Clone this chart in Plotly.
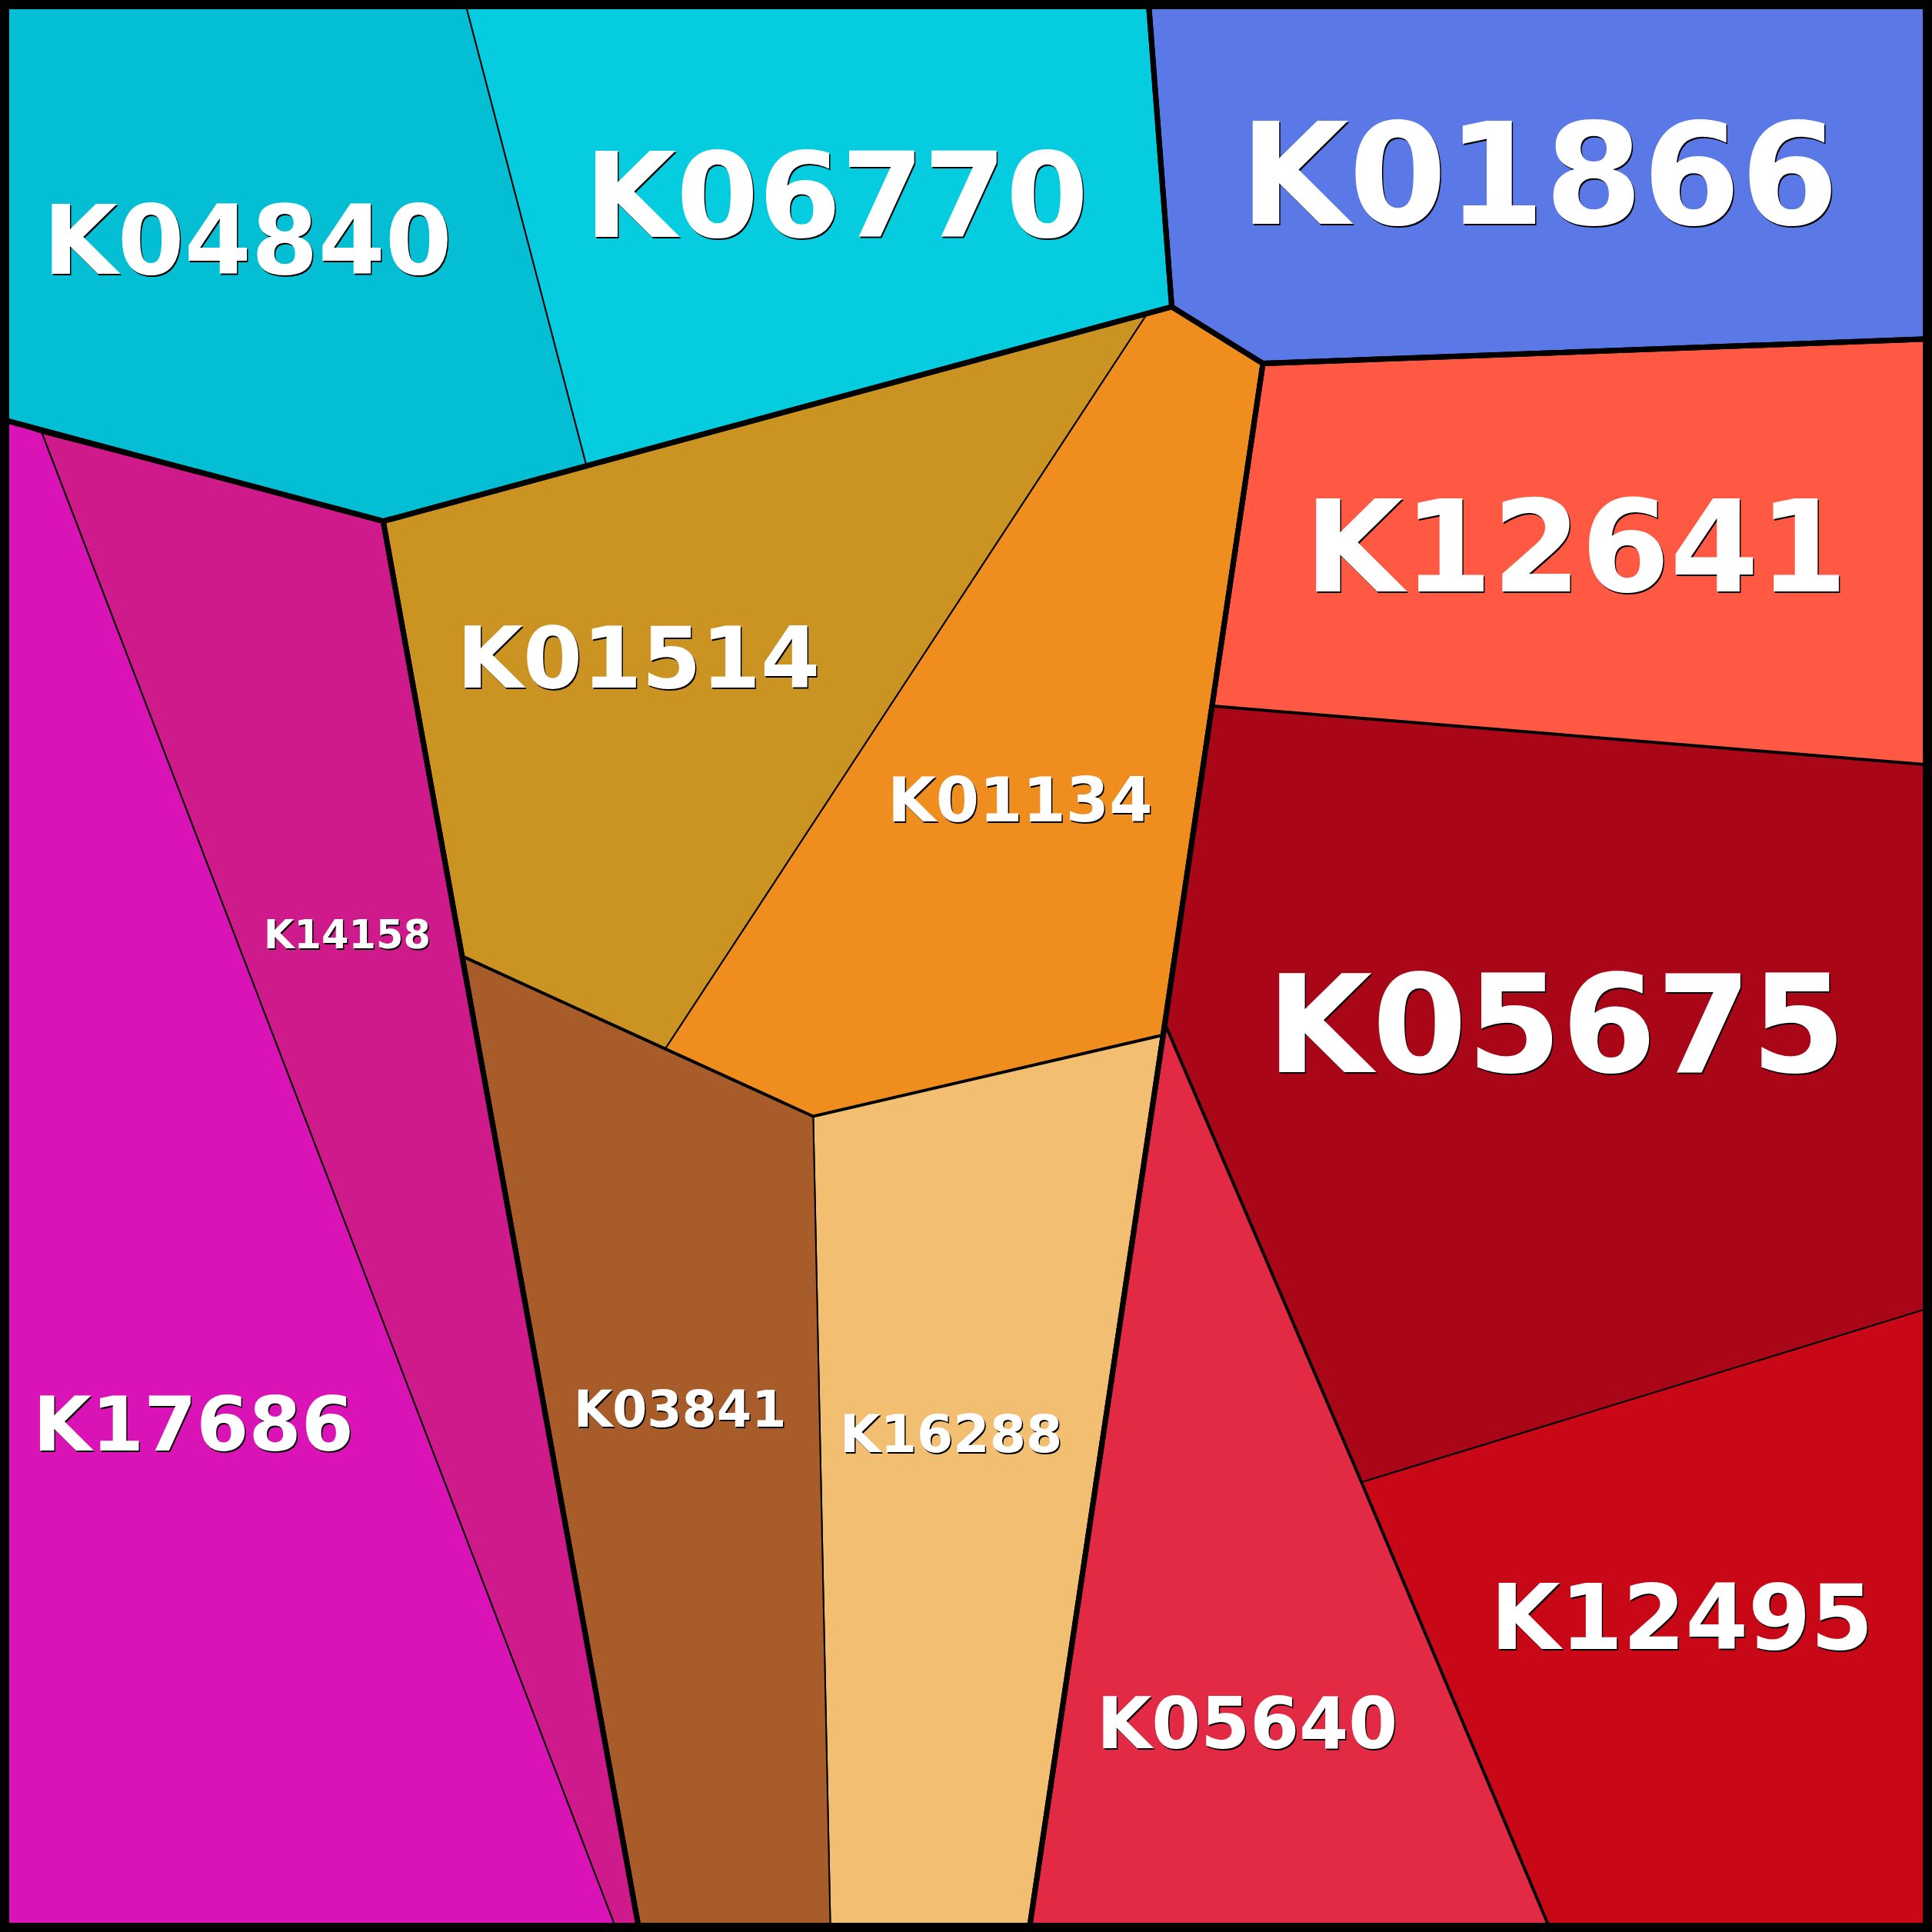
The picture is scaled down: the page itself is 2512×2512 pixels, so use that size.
import plotly.graph_objects as go

# ---- data: Voronoi treemap cells (vertex coordinates, 0..1568 canvas units) ----
vertices = {
    "TL": (0, 0), "TR": (1568, 0), "BR": (1568, 1568), "BL": (0, 1568),
    "A": (377, 0), "B": (932, 0), "C": (951, 249), "D": (1025, 295),
    "E": (1568, 275), "F": (311, 423), "G": (0, 340), "H": (476, 378),
    "I": (931, 254.5), "J": (34, 351.5), "K": (375, 776), "L": (540, 851),
    "M": (660, 906), "N": (944, 840), "O": (984, 573), "P": (1568, 621),
    "Q": (945.5, 831), "R": (1105, 1203), "S": (1568, 1061), "T": (1259, 1568),
    "U": (835, 1568), "V": (674, 1568), "W": (519, 1568), "X": (501, 1568),
}

labels = ["K04840", "K06770", "K01866", "K12641", "K05675", "K12495", "K05640",
          "K16288", "K03841", "K01134", "K01514", "K14158", "K17686"]

cells = [
    ["TL", "A", "H", "F", "G"],
    ["A", "B", "C", "H"],
    ["B", "TR", "E", "D", "C"],
    ["D", "E", "P", "O"],
    ["O", "P", "S", "R", "Q"],
    ["R", "S", "BR", "T"],
    ["Q", "R", "T", "U"],
    ["M", "N", "U", "V"],
    ["K", "L", "M", "V", "W"],
    ["I", "C", "D", "O", "N", "M", "L"],
    ["F", "I", "L", "K"],
    ["J", "F", "K", "W", "X"],
    ["G", "J", "X", "BL"],
]

colors = ["#04BFD4", "#06CCE0", "#5A78E6", "#FF5843", "#A90717", "#C90817", "#E32A45",
          "#F2BE72", "#A85C2A", "#F08D1F", "#CA9322", "#CF1A8B", "#D913B5"]

groups = [
    ["TL", "B", "C", "F", "G"],
    ["B", "TR", "E", "D", "C"],
    ["F", "C", "D", "O", "N", "U", "V", "W", "K"],
    ["D", "E", "BR", "U", "N", "O"],
    ["G", "F", "K", "W", "BL"],
]

subgroup_lines = [
    ["K", "L", "M", "N"],
    ["O", "P"],
    ["Q", "R", "T"],
]

label_pos = [(201, 195), (679, 159), (1249, 142), (1279, 444), (1263, 832), (1365, 1313),
             (1012, 1399), (772, 1164), (552, 1144), (828, 649), (518, 534), (282, 759), (157, 1156)]
label_size = [125, 154, 183, 166, 177, 117, 92, 68, 65, 81, 111, 51, 98]

fig = go.Figure()

def xy(names, close=True):
    pts = [vertices[n] for n in names]
    if close:
        pts = pts + [pts[0]]
    return [p[0] for p in pts], [p[1] for p in pts]

for lab, cell, col in zip(labels, cells, colors):
    xs, ys = xy(cell)
    fig.add_trace(go.Scatter(x=xs, y=ys, mode="lines", fill="toself", fillcolor=col,
                             line=dict(color="black", width=2), name=lab,
                             hoverinfo="name", showlegend=False))

for seg in subgroup_lines:
    xs, ys = xy(seg, close=False)
    fig.add_trace(go.Scatter(x=xs, y=ys, mode="lines", line=dict(color="black", width=4),
                             hoverinfo="skip", showlegend=False))

for g in groups:
    xs, ys = xy(g)
    fig.add_trace(go.Scatter(x=xs, y=ys, mode="lines", line=dict(color="black", width=7),
                             hoverinfo="skip", showlegend=False))

for lab, (px, py), fs in zip(labels, label_pos, label_size):
    fig.add_annotation(x=px, y=py, xref="x", yref="y", text=lab, showarrow=False,
                       xanchor="center", yanchor="middle",
                       font=dict(family="DejaVu Sans", size=fs, color="white", weight="bold",
                                 shadow="1.5px 1.5px 0px #000"))

fig.add_shape(type="rect", xref="x", yref="y", x0=3.7, y0=3.7, x1=1568 - 3.7, y1=1568 - 3.7,
              line=dict(color="black", width=12), fillcolor="rgba(0,0,0,0)", layer="above")

fig.update_xaxes(range=[0, 1568], visible=False, fixedrange=True)
fig.update_yaxes(range=[1568, 0], visible=False, fixedrange=True)
fig.update_layout(width=2512, height=2512, margin=dict(l=0, r=0, t=0, b=0),
                  paper_bgcolor="white", plot_bgcolor="white")

fig.write_html("out.html", config={"displayModeBar": False},
               post_script="document.body.style.margin='0';document.body.style.padding='0';"
                           "document.body.style.overflow='hidden';")
